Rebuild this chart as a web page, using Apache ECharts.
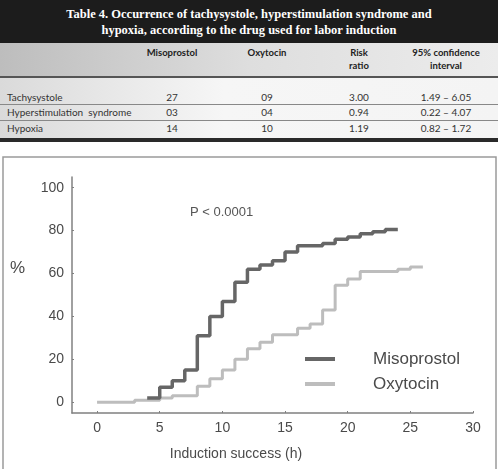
<!DOCTYPE html>
<html>
<head>
<meta charset="utf-8">
<script src="https://cdn.jsdelivr.net/npm/echarts@6/dist/echarts.min.js"></script>
<style>
  html, body { margin: 0; padding: 0; background: #fff; }
  #wrap { position: relative; width: 498px; height: 469px; overflow: hidden; }
  #chart { position: absolute; left: 0; top: 0; width: 498px; height: 469px; }
  #table { position: absolute; left: 0; top: 0; width: 498px; height: 143px; font-family: Lato, "Noto Sans", sans-serif; color: #333; }
  #table .title { position: absolute; left: 0; top: 0; width: 498px; height: 43px; background: #1c1c1c; color: #fff;
    font-family: "Liberation Serif", serif; font-weight: bold; font-size: 12.5px; line-height: 16px; text-align: center; padding-top: 6px; box-sizing: border-box; }
  #table .head { position: absolute; left: 0; top: 43px; width: 498px; height: 34px; background: linear-gradient(to right, #bdbdbd, #dedede 50%, #ececec); }
  #table .body { position: absolute; left: 0; top: 77px; width: 498px; height: 62px; background: linear-gradient(to right, #dadada, #f6f6f6 45%, #f4f4f4); }
  #table .t { position: absolute; white-space: nowrap; font-size: 10px; line-height: 12px; }
  #table .h { font-weight: bold; font-size: 9.5px; color: #222; }
  #table .ln { position: absolute; left: 0; width: 498px; }
</style>
</head>
<body>
<div id="wrap">
  <div id="chart"></div>
  <div id="table"></div>
</div>
<script>
// table data
const tableTitle = ['Table 4. Occurrence of tachysystole, hyperstimulation syndrome and',
  'hypoxia, according to the drug used for labor induction'];
const colHeads = [['Misoprostol'], ['Oxytocin'], ['Risk', 'ratio'], ['95% confidence', 'interval']];
const rowNames = ['Tachysystole', 'Hyperstimulation  syndrome', 'Hypoxia'];
const misoCounts = ['27', '03', '14'];
const oxyCounts = ['09', '04', '10'];
const riskRatios = ['3.00', '0.94', '1.19'];
const confIntervals = ['1.49 – 6.05', '0.22 – 4.07', '0.82 – 1.72'];

// curve data: [hours, cumulative %], step holds until next point
const misoprostol = [[4, 2], [5, 7], [6, 10], [7, 15], [8, 31], [9, 40], [10, 47], [11, 56], [12, 62], [13, 64],
  [14, 66], [15, 70], [16, 73], [18, 74], [19, 76], [20, 77], [21, 78.5], [22, 79.5], [23, 80.5], [24, 80.5]];
const oxytocin = [[0, 0], [3, 1], [5, 2], [6, 3], [8, 7.5], [9, 11], [10, 15], [11, 20], [12, 25], [13, 28],
  [14, 31.5], [16, 34.5], [17, 36.5], [18, 43], [19, 54.5], [20, 57.5], [21, 61], [24, 62], [25, 63], [26, 63]];
const xTicks = [0, 5, 10, 15, 20, 25, 30];
const yTicks = [0, 20, 40, 60, 80, 100];

// build the table
const tbl = document.getElementById('table');
let html = '<div class="title">' + tableTitle.join('<br>') + '</div>';
html += '<div class="head"></div><div class="body"></div>';
const colX = [172, 267, 359, 446];
colHeads.forEach((lines, i) => {
  lines.forEach((s, j) => {
    html += `<div class="t h" style="left:${colX[i] - 60}px;width:120px;text-align:center;top:${47 + j * 13}px">${s}</div>`;
  });
});
const rowY = [91, 106, 122];
rowNames.forEach((name, r) => {
  const y = rowY[r];
  html += `<div class="t" style="left:7px;top:${y}px;white-space:pre">${name}</div>`;
  html += `<div class="t" style="left:${colX[0] - 30}px;width:60px;text-align:center;top:${y}px">${misoCounts[r]}</div>`;
  html += `<div class="t" style="left:${colX[1] - 30}px;width:60px;text-align:center;top:${y}px">${oxyCounts[r]}</div>`;
  html += `<div class="t" style="left:${colX[2] - 30}px;width:60px;text-align:center;top:${y}px">${riskRatios[r]}</div>`;
  html += `<div class="t" style="left:${colX[3] - 40}px;width:80px;text-align:center;top:${y}px">${confIntervals[r]}</div>`;
});
html += '<div class="ln" style="top:76px;height:2px;background:#555"></div>';
html += '<div class="ln" style="top:104px;height:1px;background:#888"></div>';
html += '<div class="ln" style="top:120px;height:1px;background:#888"></div>';
html += '<div class="ln" style="top:138px;height:4px;background:#2a2a2a"></div>';
tbl.innerHTML = html;

// chart
const chart = echarts.init(document.getElementById('chart'));
const axisColor = '#808080';
const textColor = '#4a4a4a';
const font = '"Liberation Sans", Arial, sans-serif';

chart.setOption({
  animation: false,
  grid: { left: 72, right: 25, top: 177, bottom: 56 },
  xAxis: {
    type: 'value', min: -2, max: 30,
    axisLine: { onZero: false, lineStyle: { color: axisColor, width: 1.5 } },
    axisTick: { show: true, inside: true, length: 2, customValues: xTicks, lineStyle: { color: axisColor } },
    axisLabel: { customValues: xTicks, fontSize: 14, color: textColor, fontFamily: font, margin: 8 },
    splitLine: { show: false }
  },
  yAxis: {
    type: 'value', min: -5, max: 105,
    axisLine: { show: true, onZero: false, lineStyle: { color: axisColor, width: 1.5 } },
    axisTick: { show: true, inside: true, length: 2, customValues: yTicks, lineStyle: { color: axisColor } },
    axisLabel: { customValues: yTicks, fontSize: 14, color: textColor, fontFamily: font, margin: 8 },
    splitLine: { show: false }
  },
  legend: {
    orient: 'vertical', left: 300, top: 344, itemGap: 5,
    icon: 'rect', itemWidth: 30, itemHeight: 4,
    textStyle: { fontSize: 17, color: textColor, fontFamily: font, lineHeight: 20, padding: [0, 0, 0, 33] },
    data: ['Misoprostol', 'Oxytocin']
  },
  graphic: [
    { type: 'rect', shape: { x: 3, y: 157, width: 493, height: 330 }, style: { fill: 'none', stroke: '#9a9a9a', lineWidth: 1.5 }, z: -1 },
    { type: 'text', x: 10, y: 268, style: { text: '%', fontSize: 17, fill: textColor, fontFamily: font, verticalAlign: 'middle' } },
    { type: 'text', x: 190, y: 212, style: { text: 'P < 0.0001', fontSize: 13, fill: '#555', fontFamily: font, verticalAlign: 'middle' } },
    { type: 'text', x: 236, y: 454, style: { text: 'Induction success (h)', fontSize: 14, fill: textColor, fontFamily: font, align: 'center', verticalAlign: 'middle' } }
  ],
  series: [
    {
      name: 'Misoprostol', type: 'line', step: 'end', data: misoprostol, symbol: 'none', z: 3,
      lineStyle: { color: '#666666', width: 3.5 }, itemStyle: { color: '#666666' }
    },
    {
      name: 'Oxytocin', type: 'line', step: 'end', data: oxytocin, symbol: 'none', z: 2,
      lineStyle: { color: '#bdbdbd', width: 3 }, itemStyle: { color: '#bdbdbd' }
    }
  ]
});
</script>
</body>
</html>
